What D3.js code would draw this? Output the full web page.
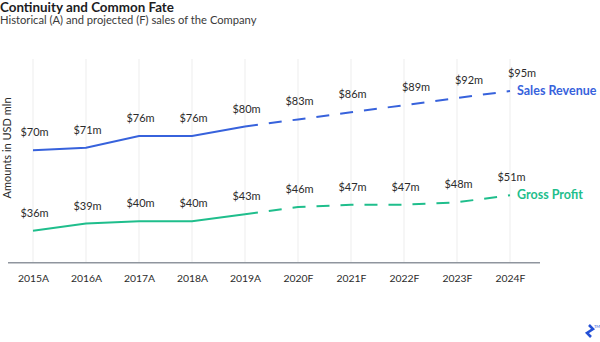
<!DOCTYPE html>
<html>
<head>
<meta charset="utf-8">
<script src="https://cdn.jsdelivr.net/npm/d3@7"></script>
<style>
  body { margin: 0; background: #fff; }
  text { font-family: Lato, "Open Sans", sans-serif; }
</style>
</head>
<body>
<script>

// years along the bottom, A = actual, F = forecast
var years = ["2015A", "2016A", "2017A", "2018A", "2019A", "2020F", "2021F", "2022F", "2023F", "2024F"]
var salesRevenue = [70, 71, 76, 76, 80, 83, 86, 89, 92, 95]
var grossProfit = [36, 39, 40, 40, 43, 46, 47, 47, 48, 51]
// index of the last actual year, dashes start from here
var lastActual = 4

var w = 600, h = 342

var svg = d3.select("body")
  .append("svg")
    .attr("width", w)
    .attr("height", h)

// title + subtitle
svg.append("text")
  .attr("x", 0).attr("y", 11.5)
  .style("font-size", "13.4px").style("font-weight", 700)
  .style("fill", "#1d1d1f")
  .text("Continuity and Common Fate")
svg.append("text")
  .attr("x", 0).attr("y", 24)
  .style("font-size", "11.2px")
  .style("fill", "#3a3a3a")
  .text("Historical (A) and projected (F) sales of the Company")

//scales-------------------------------------------------
var xScale = d3.scalePoint()
  .domain(years)
  .range([33, 510])

var yScale = d3.scaleLinear()
  .domain([22.5, 108.5])
  .range([262.7, 59])

var axisY = yScale.range()[0]

// vertical grid lines at each year
svg.append("g")
  .selectAll("line")
  .data(years)
  .enter()
  .append("line")
    .attr("x1", function(d) { return xScale(d) })
    .attr("x2", function(d) { return xScale(d) })
    .attr("y1", yScale.range()[1])
    .attr("y2", axisY)
    .style("stroke", "#ededed")
    .style("stroke-width", 1)

// x axis, just the line and the labels
var xAxis = svg.append("g")
  .attr("transform", "translate(0," + axisY + ")")
  .call(d3.axisBottom(xScale).tickSize(0).tickPadding(12))
xAxis.select(".domain").remove()
xAxis.append("line")
  .attr("x1", 8).attr("x2", 540)
  .style("stroke", "#8f959e")
  .style("stroke-width", 1.5)
xAxis.selectAll("text")
  .style("font-family", "Lato, sans-serif")
  .style("font-size", "10.4px")
  .style("fill", "#2b2b2b")

// y axis title
svg.append("text")
  .attr("transform", "translate(10.5,148)rotate(-90)")
  .attr("text-anchor", "middle")
  .style("font-size", "11px")
  .style("fill", "#2b2b2b")
  .text("Amounts in USD mln")

var series = [
  { name: "Sales Revenue", values: salesRevenue, color: "#3762dc" },
  { name: "Gross Profit", values: grossProfit, color: "#1fbe8c" }
]

var line = d3.line()
  .x(function(d) { return xScale(d.year) })
  .y(function(d) { return yScale(d.value) })

series.forEach(function(s) {
  var pts = s.values.map(function(v, i) { return { year: years[i], value: v } })

  // solid for actual years
  svg.append("path")
    .datum(pts.slice(0, lastActual + 1))
    .attr("d", line)
    .style("fill", "none")
    .style("stroke", s.color)
    .style("stroke-width", 2)

  // dashed for projected years
  svg.append("path")
    .datum(pts.slice(lastActual))
    .attr("d", line)
    .style("fill", "none")
    .style("stroke", s.color)
    .style("stroke-width", 2)
    .style("stroke-dasharray", "13,11")

  // value labels above each point
  svg.append("g")
    .selectAll("text")
    .data(pts)
    .enter()
    .append("text")
      .attr("x", function(d, i) {
        // the steeper end of the revenue line pushes the labels right a bit
        var nudge = (s.name == "Sales Revenue" && i >= 7) ? 12 : 1.5
        return xScale(d.year) + nudge
      })
      .attr("y", function(d) { return yScale(d.value) - 14 })
      .attr("text-anchor", "middle")
      .style("font-size", "11px")
      .style("fill", "#2b2b2b")
      .text(function(d) { return "$" + d.value + "m" })

  // series name at the end of the line
  var last = pts[pts.length - 1]
  svg.append("text")
    .attr("x", xScale(last.year) + 7)
    .attr("y", yScale(last.value) + 4)
    .style("font-size", "12.5px")
    .style("font-weight", 700)
    .style("fill", s.color)
    .text(s.name)
})

// little logo mark in the corner
var logo = svg.append("g").attr("transform", "translate(584,325)")
logo.append("path")
  .attr("d", "M5,0 L9,4 L3,8 L7,12")
  .style("fill", "none")
  .style("stroke", "#2450d6")
  .style("stroke-width", 2.6)
  .style("stroke-linejoin", "miter")
logo.append("text")
  .attr("x", 10).attr("y", 3)
  .style("font-size", "4px")
  .style("fill", "#2450d6")
  .text("TM")

</script>
</body>
</html>
